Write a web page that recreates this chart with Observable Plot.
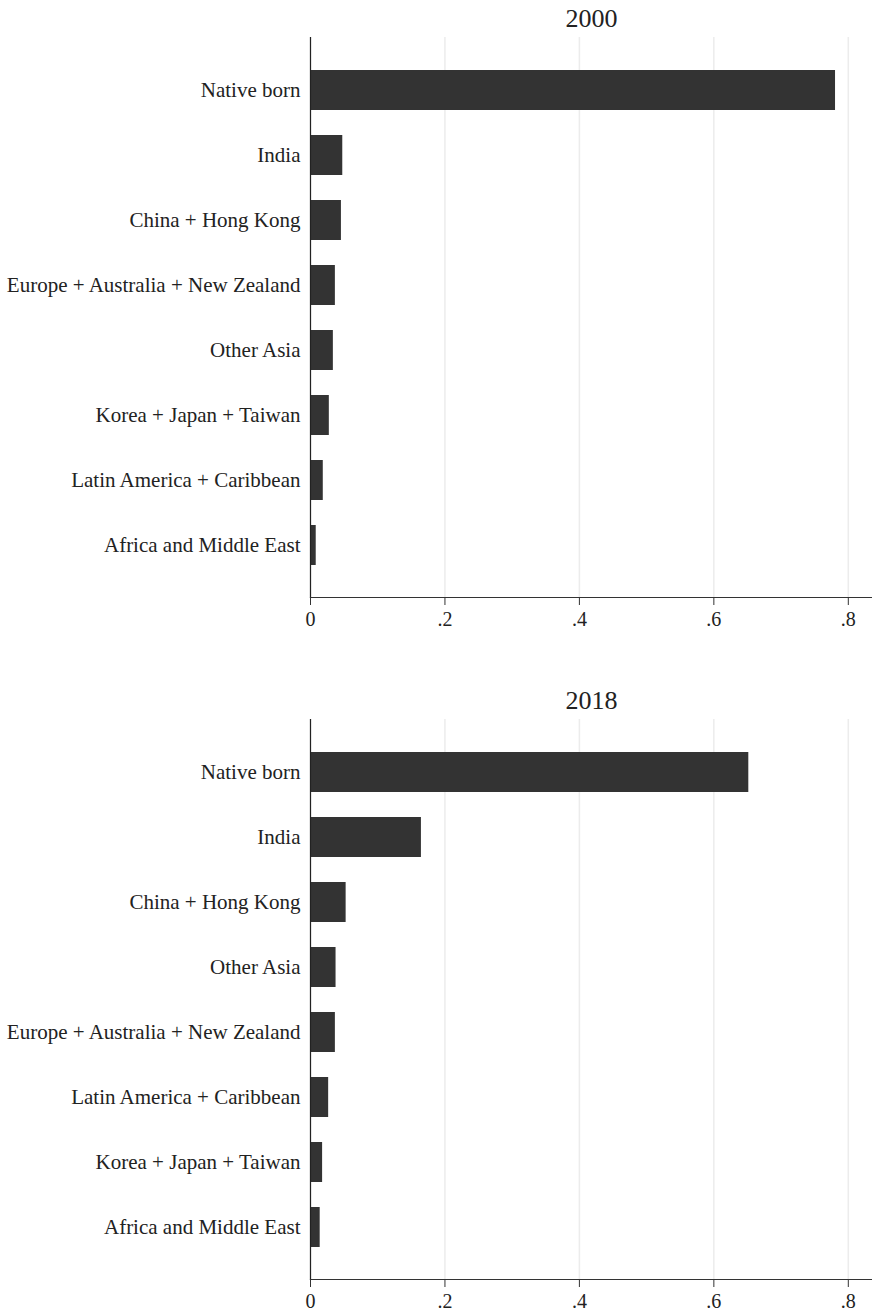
<!DOCTYPE html>
<html>
<head>
<meta charset="utf-8">
<script src="https://cdn.jsdelivr.net/npm/d3@7"></script>
<script src="https://cdn.jsdelivr.net/npm/@observablehq/plot@0.6"></script>
<style>
  html, body { margin: 0; padding: 0; background: white; }
  svg { display: block; }
</style>
</head>
<body>
<div id="chart"></div>
<script>
const titles = ["2000", "2018"];

const categories2000 = [
  "Native born", "India", "China + Hong Kong", "Europe + Australia + New Zealand",
  "Other Asia", "Korea + Japan + Taiwan", "Latin America + Caribbean", "Africa and Middle East"
];
const values2000 = [0.781, 0.048, 0.046, 0.037, 0.034, 0.028, 0.019, 0.0085];

const categories2018 = [
  "Native born", "India", "China + Hong Kong", "Other Asia",
  "Europe + Australia + New Zealand", "Latin America + Caribbean", "Korea + Japan + Taiwan", "Africa and Middle East"
];
const values2018 = [0.652, 0.165, 0.053, 0.038, 0.037, 0.027, 0.018, 0.0144];

const tickValues = [0, 0.2, 0.4, 0.6, 0.8];
const tickLabels = ["0", ".2", ".4", ".6", ".8"];

function panel(title, cats, vals, height, marginBottom) {
  const data = cats.map((c, i) => ({cat: c, value: vals[i]}));
  const fmt = d => tickLabels[tickValues.indexOf(d)];
  return Plot.plot({
    width: 872,
    height,
    marginTop: 37,
    marginBottom,
    marginLeft: 310,
    marginRight: 0,
    style: {fontFamily: "'Liberation Serif', serif", fontSize: "21px", color: "#222", background: "white"},
    x: {domain: [0, 0.836], label: null},
    y: {domain: cats, paddingInner: 0.39, paddingOuter: 0.5, label: null},
    marks: [
      Plot.gridX(tickValues, {stroke: "#ececec", strokeOpacity: 1, strokeWidth: 1.5}),
      Plot.barX(data, {x: "value", y: "cat", fill: "#333333"}),
      Plot.frame({anchor: "bottom", stroke: "#333", strokeWidth: 1.2}),
      Plot.frame({anchor: "left", stroke: "#222", strokeWidth: 1.2}),
      Plot.axisX({ticks: tickValues, tickFormat: fmt, tickSize: 8, tickPadding: 6, fontSize: 20, label: null, stroke: "#333"}),
      Plot.axisY({tickSize: 0, tickPadding: 10, label: null, fontSize: 21}),
      Plot.text([title], {frameAnchor: "top", dy: -19, lineAnchor: "middle", fontSize: 26, fill: "#222"})
    ]
  });
}

const root = document.getElementById("chart");
root.appendChild(panel(titles[0], categories2000, values2000, 682, 85));
root.appendChild(panel(titles[1], categories2018, values2018, 634, 37));
</script>
</body>
</html>
